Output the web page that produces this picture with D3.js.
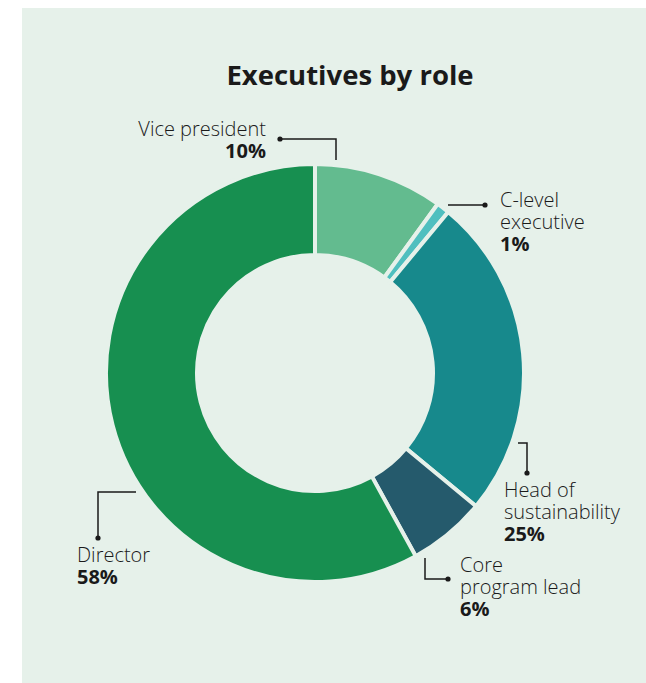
<!DOCTYPE html>
<html>
<head>
<meta charset="utf-8">
<script src="https://cdn.jsdelivr.net/npm/d3@7"></script>
<style>
  html, body { margin: 0; padding: 0; background: #ffffff; }
  svg { display: block; }
  text { font-family: "Open Sans", "Noto Sans", sans-serif; fill: #1a1a1a; }
</style>
</head>
<body>
<svg id="chart" width="646" height="683"></svg>
<script>
// ---- data ----
const categories = ["Vice president", "C-level executive", "Head of sustainability", "Core program lead", "Director"];
const values = [10, 1, 25, 6, 58];
const valueLabels = ["10%", "1%", "25%", "6%", "58%"];
const labelLines = [["Vice president"], ["C-level", "executive"], ["Head of", "sustainability"], ["Core", "program lead"], ["Director"]];
const colors = ["#63bb8f", "#4fbfbf", "#17898c", "#255a6c", "#178f50"];
const title = "Executives by role";

// ---- layout ----
const W = 646, H = 683;
const cx = 315, cy = 373, rOuter = 209, rInner = 118;
const bg = "#e6f1ea";

const svg = d3.select("#chart");
svg.append("rect").attr("x", 22).attr("y", 8).attr("width", W - 22).attr("height", H - 8).attr("fill", bg);

svg.append("text").attr("x", 350).attr("y", 85).attr("text-anchor", "middle")
  .style("font-size", "27.5px").style("font-weight", "700").text(title);

const pie = d3.pie().sort(null).value(d => d)(values);
const arc = d3.arc().innerRadius(rInner).outerRadius(rOuter);

const g = svg.append("g").attr("transform", `translate(${cx},${cy})`);
g.selectAll("path.slice").data(pie).join("path")
  .attr("class", "slice")
  .attr("d", arc)
  .attr("fill", (d, i) => colors[i])
  .attr("stroke", bg)
  .attr("stroke-width", 4)
  .attr("stroke-linejoin", "miter");

// annotation layout (leader polyline points relative to chart centre, dot at last point; text anchor)
const annot = [
  { pts: [[21, -213], [21, -234], [-35, -234]], tx: -49, ty: -237, anchor: "end" },
  { pts: [[133, -168], [170, -168]], tx: 185, ty: -166, anchor: "start" },
  { pts: [[203, 70], [212, 70], [212, 100]], tx: 189, ty: 124, anchor: "start" },
  { pts: [[110, 185], [110, 206], [133, 206]], tx: 145, ty: 199, anchor: "start" },
  { pts: [[-179, 119], [-217, 119], [-217, 165]], tx: -238, ty: 189, anchor: "start" }
];
const lineH = 22;
const line = d3.line();

annot.forEach((a, i) => {
  g.append("path").attr("d", line(a.pts)).attr("fill", "none")
    .attr("stroke", "#1a1a1a").attr("stroke-width", 1.5);
  const last = a.pts[a.pts.length - 1];
  g.append("circle").attr("cx", last[0]).attr("cy", last[1]).attr("r", 2.6).attr("fill", "#1a1a1a");
  const t = g.append("text").attr("text-anchor", a.anchor).style("font-size", "20px").style("font-weight", "300");
  const lines = labelLines[i];
  lines.forEach((s, j) => {
    t.append("tspan").attr("x", a.tx).attr("y", a.ty + j * lineH).text(s);
  });
  t.append("tspan").attr("x", a.tx).attr("y", a.ty + lines.length * lineH)
    .style("font-weight", "700").text(valueLabels[i]);
});
</script>
</body>
</html>
